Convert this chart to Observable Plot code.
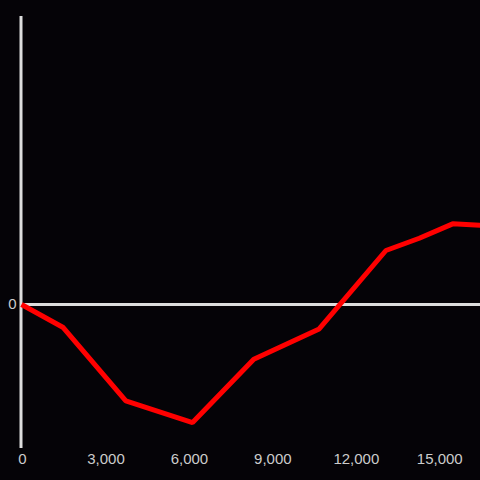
<!DOCTYPE html>
<html><head><meta charset="utf-8">
<script src="https://cdn.jsdelivr.net/npm/d3@7"></script>
<script src="https://cdn.jsdelivr.net/npm/@observablehq/plot@0.6"></script>
<style>html,body{margin:0;padding:0;background:#050307;}</style>
</head><body><div id="chart"></div>
<script>
const xs = [0, 1500, 3750, 6150, 8350, 10700, 13100, 14300, 15500, 16500];
const ys = [0, -0.16, -0.67, -0.82, -0.38, -0.17, 0.375, 0.46, 0.56, 0.55];
const xTicks = [0, 3000, 6000, 9000, 12000, 15000];
const data = xs.map((x, i) => ({x, y: ys[i]}));
const chart = Plot.plot({
  width: 480, height: 480,
  marginLeft: 21, marginRight: 0, marginTop: 16, marginBottom: 32,
  style: {background: "#050307", color: "#cccccc", fontFamily: "Liberation Sans, Arial, sans-serif", fontSize: "15px"},
  x: {domain: [0, 16500], axis: null},
  y: {domain: [-1, 2], axis: null},
  marks: [
    Plot.axisX({ticks: xTicks, tickSize: 0, tickPadding: 5, tickFormat: d3.format(","), label: null, fill: "#cccccc", fontSize: 15, dx: 1}),
    Plot.axisY({ticks: [0], tickSize: 0, tickPadding: 5, tickFormat: d3.format("d"), label: null, fill: "#cccccc", fontSize: 15}),
    Plot.ruleY([0], {stroke: "#dddddd", strokeWidth: 3}),
    Plot.ruleX([0], {stroke: "#dddddd", strokeWidth: 3, dx: -0.5}),
    Plot.line(data, {x: "x", y: "y", stroke: "#ff0000", strokeWidth: 5, strokeLinejoin: "miter", strokeLinecap: "butt"})
  ]
});
document.getElementById("chart").appendChild(chart);
</script></body></html>
